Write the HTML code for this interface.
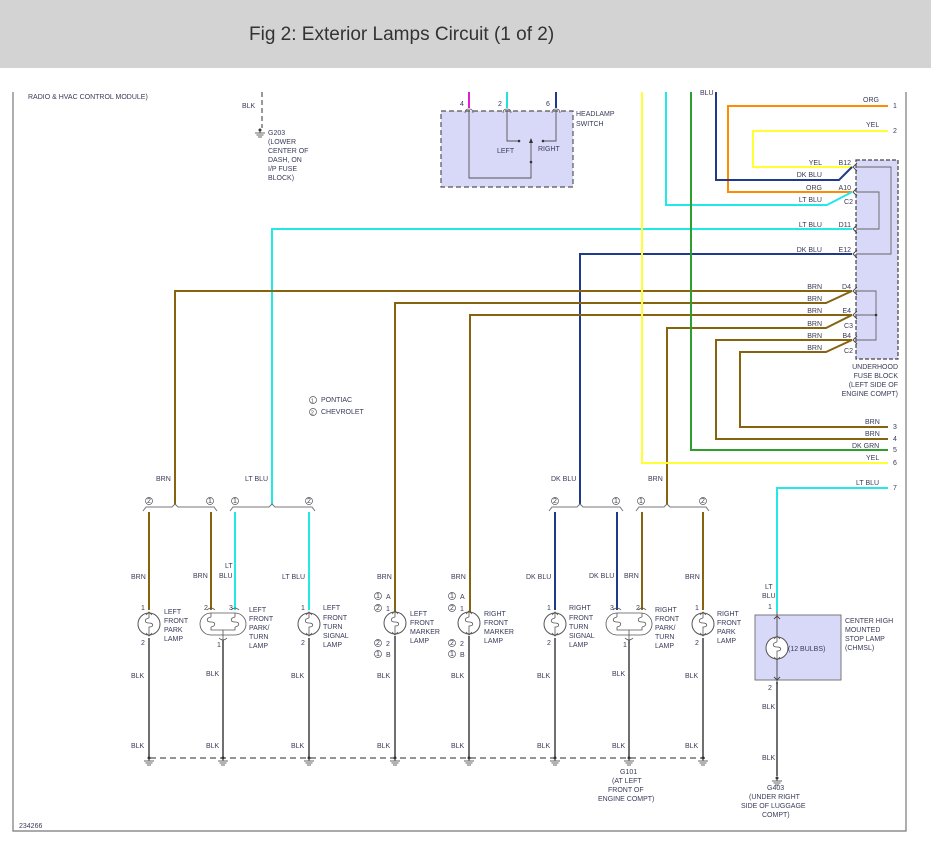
<!DOCTYPE html>
<html><head><meta charset="utf-8"><style>
html,body{margin:0;padding:0;background:#fff;}
svg{display:block;}
text{font-family:"Liberation Sans",sans-serif;font-size:7px;fill:#3a3a5a;}
.t{font-size:19px;fill:#333;}
</style></head><body>
<svg width="931" height="843" viewBox="0 0 931 843" xmlns="http://www.w3.org/2000/svg">
<defs>
<g id="lamp">
<circle cx="0" cy="0" r="11" fill="#fff" stroke="#555" stroke-width="1"/>
<path d="M0,-11 V-6 M0,6 V11 M-3,-9 L0,-12 L3,-9 M-3,9 L0,12 L3,9" fill="none" stroke="#555" stroke-width="0.8"/>
<path d="M0,-6 C-5,-5 -5,-1 0,-1 C5,-1 5,3 0,3 V6" fill="none" stroke="#555" stroke-width="0.8"/>
</g>
<g id="gnd"><circle cx="0" cy="0" r="1.5" fill="#333"/><path d="M0,0 V3 M-5,3 H5 M-3.5,5 H3.5 M-2,7 H2" stroke="#333" stroke-width="0.8"/></g>
<g id="pin"><path d="M-4,3 Q-4,-1 0,-1 Q4,-1 4,3" fill="none" stroke="#555" stroke-width="0.8"/></g>
<g id="fpin"><path d="M4,-4 L0,0 L4,4" fill="none" stroke="#444" stroke-width="0.9"/></g>
</defs>
<rect x="0" y="0" width="931" height="68" fill="#d3d3d3"/>
<text x="249" y="40" class="t">Fig 2: Exterior Lamps Circuit (1 of 2)</text>
<path d="M13,92 V831 H906 V92" fill="none" stroke="#777" stroke-width="1.2"/>
<text x="28" y="99">RADIO &amp; HVAC CONTROL MODULE)</text>
<!-- G203 -->
<path d="M262,92 V128" stroke="#555" stroke-width="1.2" stroke-dasharray="5,3"/>
<text x="242" y="108">BLK</text>
<use href="#gnd" x="260" y="130"/>
<text x="268" y="135">G203</text><text x="268" y="144">(LOWER</text><text x="268" y="153">CENTER OF</text><text x="268" y="162">DASH, ON</text><text x="268" y="171">I/P FUSE</text><text x="268" y="180">BLOCK)</text>
<!-- headlamp switch -->
<rect x="441" y="111" width="132" height="76" fill="#d8d8f8" stroke="#555" stroke-width="1.2" stroke-dasharray="5,3"/>
<path d="M469,92 V108" stroke="#e020d0" stroke-width="2"/>
<path d="M507,92 V108" stroke="#22e0e0" stroke-width="2"/>
<path d="M556,92 V108" stroke="#1f3a8a" stroke-width="2"/>
<use href="#pin" x="469" y="110"/><use href="#pin" x="507" y="110"/><use href="#pin" x="556" y="110"/>
<text x="460" y="106">4</text><text x="498" y="106">2</text><text x="546" y="106">6</text>
<path d="M469,110 V178 H531 V162 M507,110 V141 H519 M556,110 V141 H543 M531,162 L531,140" fill="none" stroke="#555" stroke-width="0.9"/>
<path d="M529,143 L531,138 L533,143Z" fill="#333"/>
<circle cx="519" cy="141" r="1.3" fill="#333"/><circle cx="543" cy="141" r="1.3" fill="#333"/><circle cx="531" cy="162" r="1.3" fill="#333"/>
<text x="497" y="153">LEFT</text><text x="538" y="151">RIGHT</text>
<text x="576" y="116">HEADLAMP</text><text x="576" y="126">SWITCH</text>
<!-- wires top-right -->
<g fill="none" stroke-width="2">
<path d="M888,106 H728 V192 H852" stroke="#ff8c00"/>
<path d="M888,131 H753 V167 H852" stroke="#ffff33"/>
<path d="M716,92 V180 H839 L852,167" stroke="#1f3a8a"/>
<path d="M666,92 V205 H827 L852,192" stroke="#22e8e8"/>
<path d="M272,505 V229 H852" stroke="#22e8e8"/>
<path d="M580,505 V254 H852" stroke="#1f3a8a"/>
<path d="M175,505 V291 H852" stroke="#86640f"/>
<path d="M395,612 V303 H826 L852,291" stroke="#86640f"/>
<path d="M470,612 V315 H852" stroke="#86640f"/>
<path d="M667,505 V328 H826 L852,315" stroke="#86640f"/>
<path d="M888,439 H716 V340 H852" stroke="#86640f"/>
<path d="M888,427 H740 V352 H826 L852,340" stroke="#86640f"/>
<path d="M691,92 V450 H888" stroke="#2e9e2e"/>
<path d="M642,92 V463 H888" stroke="#ffff33"/>
<path d="M888,488 H777 V612" stroke="#22e8e8"/>
</g>
<text x="700" y="95">BLU</text>
<text x="863" y="102">ORG</text><text x="893" y="108">1</text>
<text x="866" y="127">YEL</text><text x="893" y="133">2</text>
<text x="865" y="424">BRN</text><text x="893" y="429">3</text>
<text x="865" y="436">BRN</text><text x="893" y="441">4</text>
<text x="852" y="448">DK GRN</text><text x="893" y="452">5</text>
<text x="866" y="460">YEL</text><text x="893" y="465">6</text>
<text x="856" y="485">LT BLU</text><text x="893" y="490">7</text>
<!-- fuse block -->
<rect x="856" y="160" width="42" height="199" fill="#d8d8f8" stroke="#444" stroke-width="1.2" stroke-dasharray="4,2"/>
<path d="M856,167 H891 V254 H856 M856,192 H879 V229 H856 M856,291 H876 V340 H856 M856,315 H876" fill="none" stroke="#666" stroke-width="0.9"/>
<circle cx="876" cy="315" r="1.3" fill="#333"/>
<use href="#fpin" x="853" y="167"/><use href="#fpin" x="853" y="192"/><use href="#fpin" x="853" y="229"/><use href="#fpin" x="853" y="254"/><use href="#fpin" x="853" y="291"/><use href="#fpin" x="853" y="315"/><use href="#fpin" x="853" y="340"/>
<g text-anchor="end">
<text x="822" y="165">YEL</text><text x="822" y="177">DK BLU</text><text x="822" y="190">ORG</text><text x="822" y="202">LT BLU</text><text x="822" y="227">LT BLU</text><text x="822" y="252">DK BLU</text>
<text x="822" y="289">BRN</text><text x="822" y="301">BRN</text><text x="822" y="313">BRN</text><text x="822" y="326">BRN</text><text x="822" y="338">BRN</text><text x="822" y="350">BRN</text>
<text x="851" y="165">B12</text><text x="851" y="190">A10</text><text x="851" y="227">D11</text><text x="851" y="252">E12</text><text x="851" y="289">D4</text><text x="851" y="313">E4</text><text x="851" y="338">B4</text>
<text x="853" y="204">C2</text><text x="853" y="328">C3</text><text x="853" y="353">C2</text>
<text x="898" y="369">UNDERHOOD</text><text x="898" y="378">FUSE BLOCK</text><text x="898" y="387">(LEFT SIDE OF</text><text x="898" y="396">ENGINE COMPT)</text>
</g>
<!-- legend -->
<circle cx="313" cy="400" r="3.5" fill="none" stroke="#555" stroke-width="0.7"/><text x="311" y="402.5" style="font-size:5px">1</text><text x="321" y="402">PONTIAC</text>
<circle cx="313" cy="412" r="3.5" fill="none" stroke="#555" stroke-width="0.7"/><text x="311" y="414.5" style="font-size:5px">2</text><text x="321" y="414">CHEVROLET</text>
<!-- splice brackets -->
<g fill="none" stroke="#777" stroke-width="1">
<path d="M143,511 L146,507 H172 L175,504 L178,507 H214 L217,511"/>
<path d="M230,511 L233,507 H269 L272,504 L275,507 H312 L315,511"/>
<path d="M549,511 L552,507 H577 L580,504 L583,507 H620 L623,511"/>
<path d="M636,511 L639,507 H664 L667,504 L670,507 H706 L709,511"/>
</g>
<g fill="none" stroke="#555" stroke-width="0.7">
<circle cx="149" cy="501" r="3.5"/><circle cx="210" cy="501" r="3.5"/><circle cx="235" cy="501" r="3.5"/><circle cx="309" cy="501" r="3.5"/>
<circle cx="555" cy="501" r="3.5"/><circle cx="616" cy="501" r="3.5"/><circle cx="641" cy="501" r="3.5"/><circle cx="703" cy="501" r="3.5"/>
</g>
<g style="font-size:5px">
<text x="147" y="503">2</text><text x="208" y="503">1</text><text x="233" y="503">1</text><text x="307" y="503">2</text>
<text x="553" y="503">2</text><text x="614" y="503">1</text><text x="639" y="503">1</text><text x="701" y="503">2</text>
</g>
<text x="156" y="481">BRN</text><text x="245" y="481">LT BLU</text><text x="551" y="481">DK BLU</text><text x="648" y="481">BRN</text>
<!-- lamp wires down -->
<g fill="none" stroke-width="2">
<path d="M149,512 V610" stroke="#86640f"/><path d="M211,512 V610" stroke="#86640f"/>
<path d="M235,512 V610" stroke="#22e8e8"/><path d="M309,512 V610" stroke="#22e8e8"/>
<path d="M555,512 V610" stroke="#1f3a8a"/><path d="M617,512 V610" stroke="#1f3a8a"/>
<path d="M642,512 V610" stroke="#86640f"/><path d="M703,512 V610" stroke="#86640f"/>
</g>
<g fill="none" stroke="#707070" stroke-width="2">
<path d="M149,638 V757"/><path d="M223,640 V757"/><path d="M309,638 V757"/><path d="M395,636 V757"/><path d="M469,636 V757"/>
<path d="M555,638 V757"/><path d="M629,640 V757"/><path d="M703,638 V757"/><path d="M777,682 V776"/>
</g>
<path d="M150,758 H705" stroke="#555" stroke-width="1.3" stroke-dasharray="6,4"/>
<use href="#gnd" x="149" y="758"/><use href="#gnd" x="223" y="758"/><use href="#gnd" x="309" y="758"/><use href="#gnd" x="395" y="758"/><use href="#gnd" x="469" y="758"/><use href="#gnd" x="555" y="758"/><use href="#gnd" x="629" y="758"/><use href="#gnd" x="703" y="758"/><use href="#gnd" x="777" y="778"/>
<!-- lamps -->
<use href="#lamp" x="149" y="624"/><use href="#lamp" x="309" y="624"/><use href="#lamp" x="395" y="623"/><use href="#lamp" x="469" y="623"/><use href="#lamp" x="555" y="624"/><use href="#lamp" x="703" y="624"/>
<g fill="none" stroke="#555" stroke-width="0.8">
<rect x="200" y="613" width="46" height="22" rx="11" fill="#fff"/>
<path d="M207,610 Q211,606 215,610 M231,610 Q235,606 239,610 M219,638 Q223,642 227,638"/>
<path d="M211,613 V617 M235,613 V617 M211,627 V630 H235 V627 M223,630 V640"/>
<path d="M211,617 C206,618 206,622 211,622 C216,622 216,626 211,627 M235,617 C230,618 230,622 235,622 C240,622 240,626 235,627"/>
<rect x="606" y="613" width="46" height="22" rx="11" fill="#fff"/>
<path d="M613,610 Q617,606 621,610 M638,610 Q642,606 646,610 M625,638 Q629,642 633,638"/>
<path d="M617,613 V617 M642,613 V617 M617,627 V630 H642 V627 M629,630 V640"/>
<path d="M617,617 C612,618 612,622 617,622 C622,622 622,626 617,627 M642,617 C637,618 637,622 642,622 C647,622 647,626 642,627"/>
</g>
<!-- CHMSL -->
<rect x="755" y="615" width="86" height="65" fill="#d8d8f8" stroke="#777" stroke-width="1"/>
<path d="M777,612 V637 M777,659 V684 M774,619 L777,616 L780,619 M774,677 L777,680 L780,677" fill="none" stroke="#444" stroke-width="0.9"/>
<use href="#lamp" x="777" y="648"/>
<text x="788" y="651">(12 BULBS)</text>
<text x="845" y="623">CENTER HIGH</text><text x="845" y="632">MOUNTED</text><text x="845" y="641">STOP LAMP</text><text x="845" y="650">(CHMSL)</text>
<text x="765" y="589">LT</text><text x="762" y="598">BLU</text><text x="768" y="609">1</text><text x="768" y="690">2</text>
<text x="762" y="709">BLK</text><text x="762" y="760">BLK</text>
<text x="767" y="790">G403</text><text x="749" y="799">(UNDER RIGHT</text><text x="741" y="808">SIDE OF LUGGAGE</text><text x="762" y="817">COMPT)</text>
<!-- lamp labels -->
<text x="164" y="614">LEFT</text><text x="164" y="623">FRONT</text><text x="164" y="632">PARK</text><text x="164" y="641">LAMP</text>
<text x="249" y="612">LEFT</text><text x="249" y="621">FRONT</text><text x="249" y="630">PARK/</text><text x="249" y="639">TURN</text><text x="249" y="648">LAMP</text>
<text x="323" y="610">LEFT</text><text x="323" y="620">FRONT</text><text x="323" y="629">TURN</text><text x="323" y="638">SIGNAL</text><text x="323" y="647">LAMP</text>
<text x="410" y="616">LEFT</text><text x="410" y="625">FRONT</text><text x="410" y="634">MARKER</text><text x="410" y="643">LAMP</text>
<text x="484" y="616">RIGHT</text><text x="484" y="625">FRONT</text><text x="484" y="634">MARKER</text><text x="484" y="643">LAMP</text>
<text x="569" y="610">RIGHT</text><text x="569" y="620">FRONT</text><text x="569" y="629">TURN</text><text x="569" y="638">SIGNAL</text><text x="569" y="647">LAMP</text>
<text x="655" y="612">RIGHT</text><text x="655" y="621">FRONT</text><text x="655" y="630">PARK/</text><text x="655" y="639">TURN</text><text x="655" y="648">LAMP</text>
<text x="717" y="616">RIGHT</text><text x="717" y="625">FRONT</text><text x="717" y="634">PARK</text><text x="717" y="643">LAMP</text>
<!-- pin numbers -->
<text x="141" y="610">1</text><text x="141" y="645">2</text>
<text x="204" y="610">2</text><text x="229" y="610">3</text><text x="217" y="647">1</text>
<text x="301" y="610">1</text><text x="301" y="645">2</text>
<text x="547" y="610">1</text><text x="547" y="645">2</text>
<text x="610" y="610">3</text><text x="636" y="610">2</text><text x="623" y="647">1</text>
<text x="695" y="610">1</text><text x="695" y="645">2</text>
<!-- marker annotations -->
<g fill="none" stroke="#555" stroke-width="0.7">
<circle cx="378" cy="596" r="3.5"/><circle cx="378" cy="608" r="3.5"/><circle cx="378" cy="643" r="3.5"/><circle cx="378" cy="654" r="3.5"/>
<circle cx="452" cy="596" r="3.5"/><circle cx="452" cy="608" r="3.5"/><circle cx="452" cy="643" r="3.5"/><circle cx="452" cy="654" r="3.5"/>
</g>
<g style="font-size:5px"><text x="376" y="598">1</text><text x="376" y="610">2</text><text x="376" y="645">2</text><text x="376" y="656">1</text>
<text x="450" y="598">1</text><text x="450" y="610">2</text><text x="450" y="645">2</text><text x="450" y="656">1</text></g>
<text x="386" y="599">A</text><text x="386" y="611">1</text><text x="386" y="646">2</text><text x="386" y="657">B</text>
<text x="460" y="599">A</text><text x="460" y="611">1</text><text x="460" y="646">2</text><text x="460" y="657">B</text>
<!-- wire labels -->
<text x="131" y="579">BRN</text><text x="193" y="578">BRN</text><text x="225" y="568">LT</text><text x="219" y="578">BLU</text><text x="282" y="579">LT BLU</text>
<text x="377" y="579">BRN</text><text x="451" y="579">BRN</text><text x="526" y="579">DK BLU</text><text x="589" y="578">DK BLU</text><text x="624" y="578">BRN</text><text x="685" y="579">BRN</text>
<text x="131" y="678">BLK</text><text x="206" y="676">BLK</text><text x="291" y="678">BLK</text><text x="377" y="678">BLK</text><text x="451" y="678">BLK</text><text x="537" y="678">BLK</text><text x="612" y="676">BLK</text><text x="685" y="678">BLK</text>
<text x="131" y="748">BLK</text><text x="206" y="748">BLK</text><text x="291" y="748">BLK</text><text x="377" y="748">BLK</text><text x="451" y="748">BLK</text><text x="537" y="748">BLK</text><text x="612" y="748">BLK</text><text x="685" y="748">BLK</text>
<text x="620" y="774">G101</text><text x="612" y="783">(AT LEFT</text><text x="608" y="792">FRONT OF</text><text x="598" y="801">ENGINE COMPT)</text>
<text x="19" y="828">234266</text>
</svg>
</body></html>
